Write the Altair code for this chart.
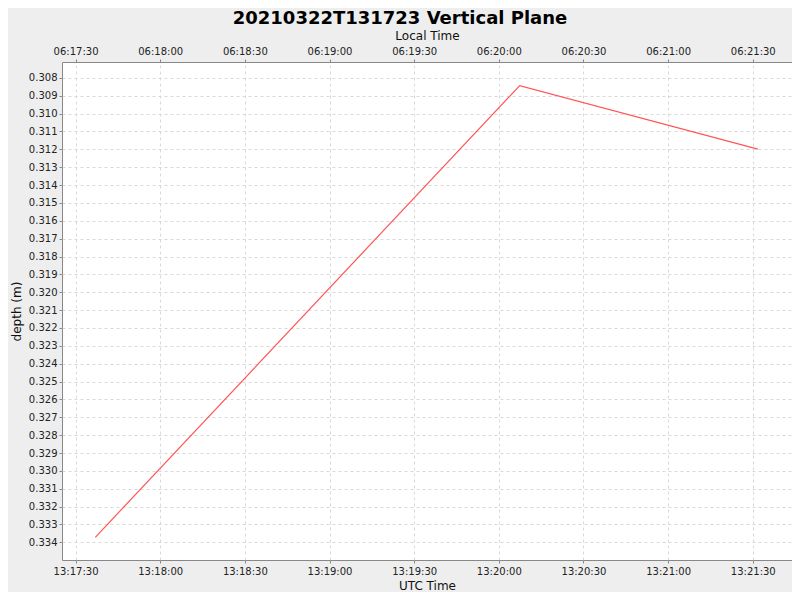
import altair as alt
import pandas as pd

# ---- data ----
utc_times = ["2021-03-22T13:17:37.0Z", "2021-03-22T13:20:07.4Z", "2021-03-22T13:21:31.8Z"]
depths = [0.33372, 0.30843, 0.31199]

utc_tick_labels = ["13:17:30", "13:18:00", "13:18:30", "13:19:00", "13:19:30",
                   "13:20:00", "13:20:30", "13:21:00", "13:21:30"]
depth_ticks = [0.308, 0.309, 0.310, 0.311, 0.312, 0.313, 0.314, 0.315, 0.316,
               0.317, 0.318, 0.319, 0.320, 0.321, 0.322, 0.323, 0.324, 0.325,
               0.326, 0.327, 0.328, 0.329, 0.330, 0.331, 0.332, 0.333, 0.334]
x_domain = ["13:17:25.2", "13:21:43.9"]
y_domain = [0.30711, 0.33499]
local_offset_ms = -7 * 3600 * 1000

df = pd.DataFrame({"utc": utc_times, "depth": depths})


def dt(hms):
    h, m, s = hms.split(":")
    sec = float(s)
    return alt.DateTime(year=2021, month=3, date=22, hours=int(h), minutes=int(m),
                        seconds=int(sec), milliseconds=int(round((sec - int(sec)) * 1000)),
                        utc=True)


tick_values = [dt(t) for t in utc_tick_labels]
xscale = alt.Scale(type="utc", domain=[dt(x_domain[0]), dt(x_domain[1])], nice=False)
yscale = alt.Scale(domain=y_domain, reverse=True, zero=False, nice=False)
yaxis = alt.Axis(title="depth (m)", values=depth_ticks, format=".3f",
                 labelPadding=2, titlePadding=5)

FONT = "DejaVu Sans"

line = alt.Chart(df).mark_line(color="#ff5555", strokeWidth=1.2).encode(
    x=alt.X("utc:T", scale=xscale,
            axis=alt.Axis(orient="bottom", title="UTC Time", values=tick_values,
                          labelExpr="utcFormat(datum.value, '%H:%M:%S')",
                          labelPadding=3, titlePadding=4)),
    y=alt.Y("depth:Q", scale=yscale, axis=yaxis),
)

top = alt.Chart(df).mark_line(opacity=0).encode(
    x=alt.X("utc:T", scale=xscale,
            axis=alt.Axis(orient="top", title="Local Time", values=tick_values,
                          labelExpr=f"utcFormat(datum.value + ({local_offset_ms}), '%H:%M:%S')",
                          grid=False, labelPadding=3, titlePadding=4)),
    y=alt.Y("depth:Q", scale=yscale, axis=yaxis),
)

chart = alt.layer(line, top).resolve_axis(x="independent").properties(
    width=730,
    height=498,
    autosize=alt.AutoSizeParams(type="none"),
    padding={"left": 54, "top": 54, "right": 0, "bottom": 32},
    background="#eeeeee",
    title=alt.TitleParams(
        "20210322T131723 Vertical Plane", font=FONT, fontSize=18, fontWeight="bold",
        color="#000000", anchor="middle", dx=-27, offset=1,
    ),
).configure_view(
    fill="#ffffff", stroke="#888888", strokeWidth=1,
).configure_axis(
    labelFont=FONT, labelFontSize=10, labelColor="#222222",
    titleFont=FONT, titleFontSize=12, titleColor="#111111", titleFontWeight="normal",
    domain=False, tickColor="#888888", tickSize=3,
    grid=True, gridColor="#d9d9d9", gridDash=[3, 3], gridWidth=1,
)

chart.save("out.html", embed_options={"renderer": "svg", "actions": False})
